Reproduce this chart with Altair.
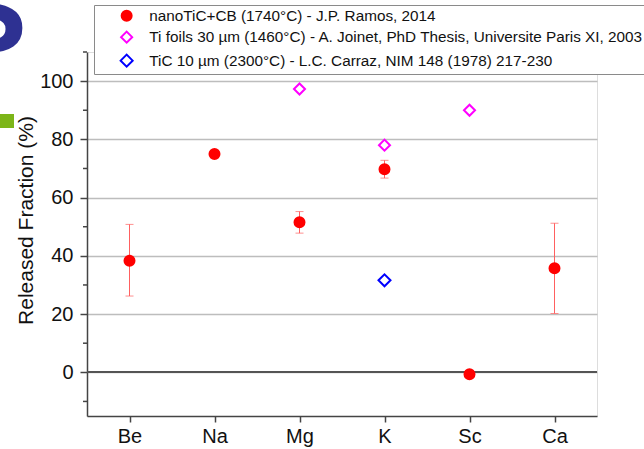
import altair as alt
import pandas as pd

# ---- data ----
elements = ["Be", "Na", "Mg", "K", "Sc", "Ca"]

series_names = [
    "nanoTiC+CB (1740°C) - J.P. Ramos, 2014",
    "Ti foils 30 µm (1460°C) - A. Joinet, PhD Thesis, Universite Paris XI, 2003",
    "TiC 10 µm (2300°C) - L.C. Carraz, NIM 148 (1978) 217-230",
]

ramos_elements = ["Be", "Na", "Mg", "K", "Sc", "Ca"]
ramos_values = [38.3, 75.0, 51.5, 69.7, -0.7, 35.7]
ramos_low = [26.2, None, 47.8, 66.7, None, 20.2]
ramos_high = [50.8, None, 55.2, 72.8, None, 51.2]

joinet_elements = ["Mg", "K", "Sc"]
joinet_values = [97.3, 78.0, 90.0]

carraz_elements = ["K"]
carraz_values = [31.6]

y_major_ticks = [0, 20, 40, 60, 80, 100]
y_minor_ticks = [-10, 10, 30, 50, 70, 90, 110]
y_domain = [-15, 110]

series_fill = ["#ff0000", "transparent", "transparent"]
series_stroke = ["#ff0000", "#ff00ff", "#0000ff"]
series_shape = ["circle", "diamond", "diamond"]
series_size = [100, 144, 144]

# ---- tables ----
rows = []
for e, v in zip(ramos_elements, ramos_values):
    rows.append({"element": e, "value": v, "series": series_names[0]})
for e, v in zip(joinet_elements, joinet_values):
    rows.append({"element": e, "value": v, "series": series_names[1]})
for e, v in zip(carraz_elements, carraz_values):
    rows.append({"element": e, "value": v, "series": series_names[2]})
points_df = pd.DataFrame(rows)

err_df = pd.DataFrame({"element": ramos_elements, "lo": ramos_low, "hi": ramos_high}).dropna()
minor_df = pd.DataFrame({"m": y_minor_ticks})

FONT = "Liberation Sans"

x_enc = alt.X(
    "element:N",
    sort=elements,
    scale=alt.Scale(type="point", domain=elements, padding=0.5),
    axis=alt.Axis(
        title=None, labelAngle=0, grid=False, domainColor="#444", domainWidth=1.5,
        tickColor="#444", tickWidth=1.5, tickSize=6, labelFontSize=20, labelFont=FONT,
        labelColor="#111", labelPadding=4,
    ),
)

y_scale = alt.Scale(domain=y_domain, nice=False, zero=False)

legend = alt.Legend(
    title=None, orient="none", legendX=7, legendY=-47, padding=3,
    strokeColor="#8a8a8a", fillColor="white", labelFontSize=15.3, labelFont=FONT,
    labelColor="#111", labelLimit=1000, symbolOffset=22, labelOffset=15,
    rowPadding=2.5, symbolStrokeWidth=2,
)

y_axis = alt.Axis(
    values=y_major_ticks, grid=True, gridColor="#bdbdbd", gridWidth=1.5,
    domainColor="#444", domainWidth=1.5, tickColor="#444", tickWidth=1.5, tickSize=7,
    labelFontSize=20, labelFont=FONT, labelColor="#111", labelPadding=7,
    title="Released Fraction (%)", titleFontSize=21, titleFont=FONT,
    titleFontWeight="normal", titleColor="#111", titlePadding=3, titleY=168,
)

zero_line = alt.Chart(points_df).mark_rule(color="#555", strokeWidth=1.6).encode(
    y=alt.Y(datum=0, scale=y_scale, axis=y_axis)
)

minor = alt.Chart(minor_df).mark_rule(color="#444", strokeWidth=1.5).encode(
    y=alt.Y("m:Q", scale=y_scale, axis=y_axis), x=alt.value(-4), x2=alt.value(0)
)

err_rule = alt.Chart(err_df).mark_rule(color="#ff6060", strokeWidth=1).encode(
    x=x_enc, y=alt.Y("lo:Q", scale=y_scale, axis=y_axis), y2="hi:Q"
)
err_lo = alt.Chart(err_df).mark_tick(color="#ff6060", thickness=1, size=8).encode(
    x=x_enc, y=alt.Y("lo:Q", scale=y_scale, axis=y_axis)
)
err_hi = alt.Chart(err_df).mark_tick(color="#ff6060", thickness=1, size=8).encode(
    x=x_enc, y=alt.Y("hi:Q", scale=y_scale, axis=y_axis)
)

pts = alt.Chart(points_df).mark_point(filled=False, opacity=1, strokeWidth=2).encode(
    x=x_enc,
    y=alt.Y("value:Q", scale=y_scale, axis=y_axis),
    fill=alt.Fill("series:N", scale=alt.Scale(domain=series_names, range=series_fill), legend=legend),
    stroke=alt.Stroke("series:N", scale=alt.Scale(domain=series_names, range=series_stroke), legend=legend),
    shape=alt.Shape("series:N", scale=alt.Scale(domain=series_names, range=series_shape), legend=legend),
    size=alt.Size("series:N", scale=alt.Scale(domain=series_names, range=series_size), legend=legend),
)

deco_df = pd.DataFrame({"d": [0]})
green = alt.Chart(deco_df).mark_rect(color="#7cb518").encode(
    x=alt.value(-87), x2=alt.value(-73), y=alt.value(62), y2=alt.value(76)
)
big_s = alt.Chart(deco_df).mark_text(
    text="S", fontSize=120, fontWeight="bold", color="#2e3192", align="right",
    baseline="alphabetic", font=FONT,
).encode(x=alt.value(-60), y=alt.value(0))

chart = alt.layer(zero_line, minor, err_rule, err_lo, err_hi, pts, green, big_s).properties(
    width=510, height=364,
    padding={"left": 87, "top": 52, "right": 47, "bottom": 33},
    autosize=alt.AutoSizeParams(type="none"),
).configure_view(stroke=None).configure(background="white")

chart.save("out.html", embed_options={"renderer": "svg", "actions": False})
